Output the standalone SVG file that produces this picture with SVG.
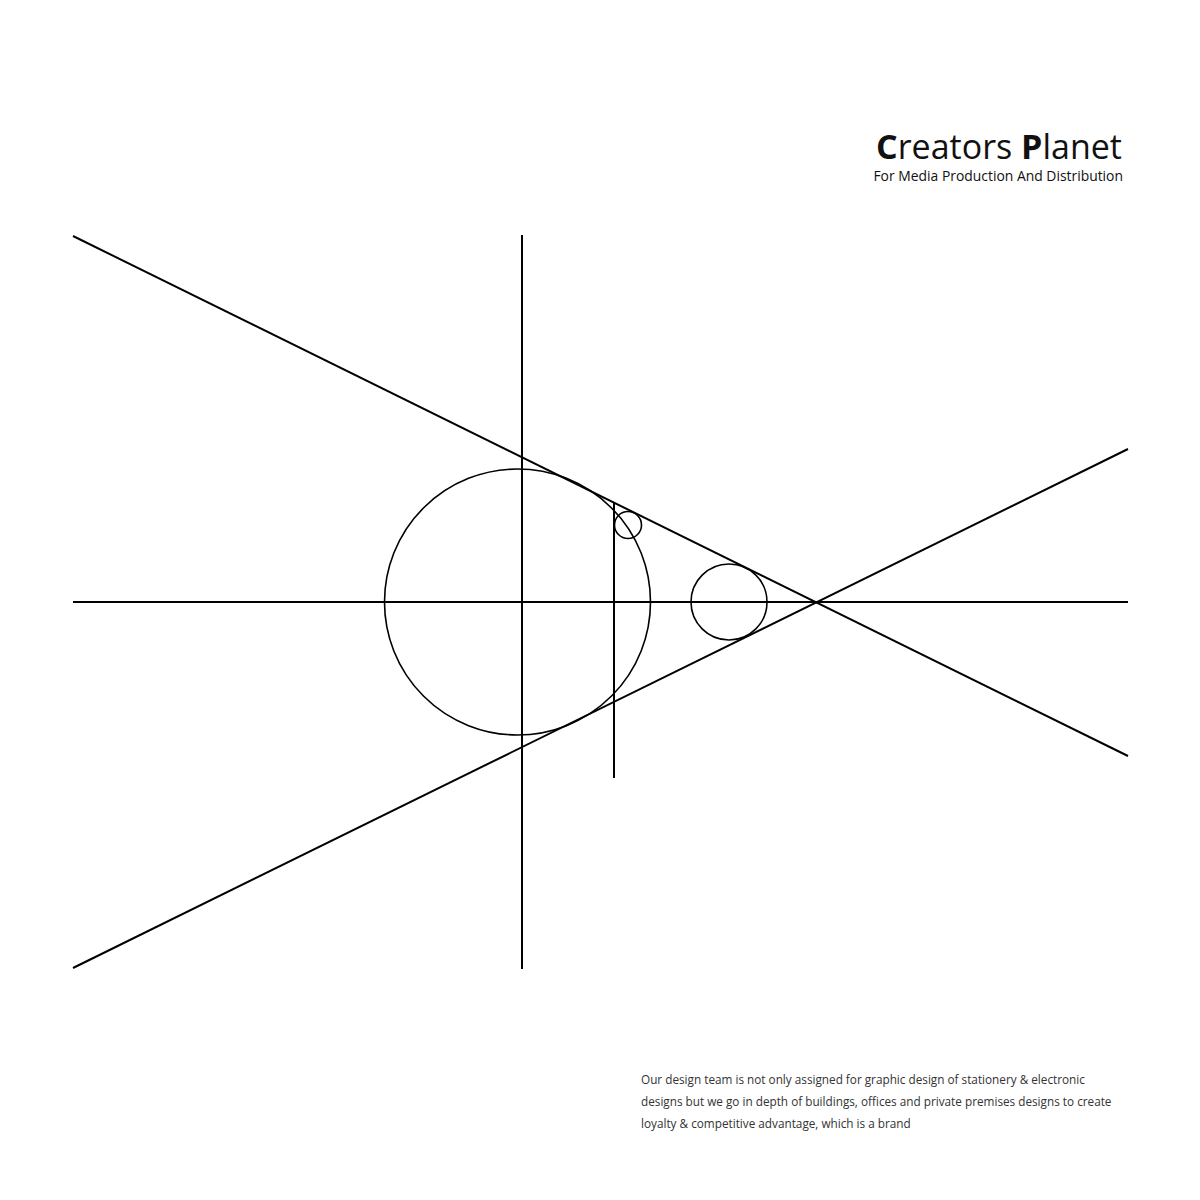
<svg xmlns="http://www.w3.org/2000/svg" width="1200" height="1200" viewBox="0 0 1200 1200">
<style>
.ln{stroke:#000;stroke-width:2;fill:none}
.cr{stroke:#000;stroke-width:1.6;fill:none}
.title{font-family:"Open Sans","Noto Sans",sans-serif;font-size:34px;fill:#111}
.sub{font-family:"Open Sans","Noto Sans",sans-serif;font-size:13.9px;fill:#111}
.body{font-family:"Open Sans","Noto Sans",sans-serif;font-size:11.75px;fill:#333}
</style>
<rect width="1200" height="1200" fill="#fff"/>
<g id="header">
<text class="title" x="1122" y="159" text-anchor="end"><tspan font-weight="bold">C</tspan>reators <tspan font-weight="bold">P</tspan>lanet</text>
<text class="sub" x="1123" y="181" text-anchor="end">For Media Production And Distribution</text>
</g>
<g id="connectors">
<line class="ln" x1="73" y1="236" x2="1128" y2="756"/>
<line class="ln" x1="73" y1="968" x2="1128" y2="449"/>
<line class="ln" x1="73" y1="602" x2="1128" y2="602"/>
<line class="ln" x1="522" y1="235" x2="522" y2="969"/>
<line class="ln" x1="614" y1="503" x2="614" y2="778"/>
</g>
<g id="circle-large"><circle class="cr" cx="517.5" cy="602" r="133"/></g>
<g id="circle-small"><circle class="cr" cx="628" cy="525" r="13.5"/></g>
<g id="circle-medium"><circle class="cr" cx="729" cy="602" r="38"/></g>
<g id="description">
<text class="body" x="641" y="1084">Our design team is not only assigned for graphic design of stationery &amp; electronic</text>
<text class="body" x="641" y="1106">designs but we go in depth of buildings, offices and private premises designs to create</text>
<text class="body" x="641" y="1128">loyalty &amp; competitive advantage, which is a brand</text>
</g>
</svg>
